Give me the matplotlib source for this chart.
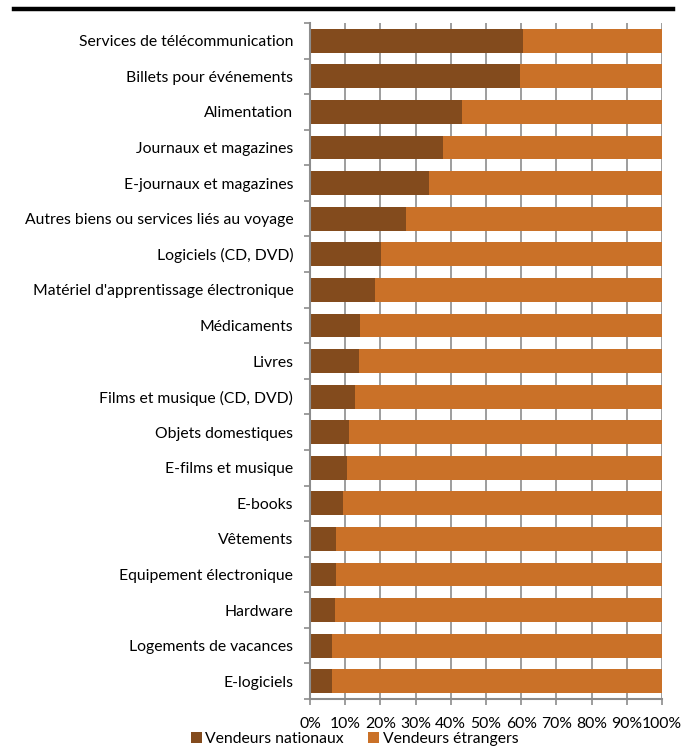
import matplotlib.pyplot as plt
import numpy as np
from matplotlib.lines import Line2D

plt.rcParams['font.family'] = ['Lato', 'DejaVu Sans']

categories = [
    'Services de télécommunication',
    'Billets pour événements',
    'Alimentation',
    'Journaux et magazines',
    'E-journaux et magazines',
    'Autres biens ou services liés au voyage',
    'Logiciels (CD, DVD)',
    "Matériel d'apprentissage électronique",
    'Médicaments',
    'Livres',
    'Films et musique (CD, DVD)',
    'Objets domestiques',
    'E-films et musique',
    'E-books',
    'Vêtements',
    'Equipement électronique',
    'Hardware',
    'Logements de vacances',
    'E-logiciels',
]
nationaux = [60.6, 59.8, 43.1, 37.9, 33.9, 27.4, 20.3, 18.6, 14.3, 13.9,
             12.7, 11.2, 10.6, 9.4, 7.4, 7.5, 7.1, 6.3, 6.25]
etrangers = [100 - v for v in nationaux]
xticks = [0, 10, 20, 30, 40, 50, 60, 70, 80, 90, 100]
series_names = ['Vendeurs nationaux', 'Vendeurs étrangers']

c_nat = '#834B1D'
c_etr = '#CA7128'
grey = '#8C8C8C'
fs = 11.3

fig = plt.figure(figsize=(6.88, 7.51), dpi=100)
ax = fig.add_axes([0.4506, 0.0692, 0.5116, 0.9002])

y = np.arange(len(categories))
ax.barh(y, nationaux, height=0.67, color=c_nat, label=series_names[0], zorder=2)
ax.barh(y, etrangers, left=nationaux, height=0.67, color=c_etr,
        label=series_names[1], zorder=2)

ax.set_xlim(0, 100)
ax.set_ylim(len(categories) - 0.5, -0.5)
ax.set_xticks(xticks)
ax.set_xticklabels([f'{t}%' for t in xticks], fontsize=fs)
ax.set_yticks(y)
ax.set_yticklabels(categories, fontsize=fs)
ax.set_yticks(np.arange(-0.5, len(categories), 1), minor=True)
ax.tick_params(axis='y', which='major', length=0, pad=12)
ax.tick_params(axis='y', which='minor', length=4, width=1.2, color=grey,
               direction='out')
ax.tick_params(axis='x', length=4, width=1.2, color=grey, direction='out',
               pad=9)
ax.grid(axis='x', color=grey, linewidth=1.2, zorder=0)
ax.set_axisbelow(True)

for s in ['top', 'right']:
    ax.spines[s].set_visible(False)
for s in ['left', 'bottom']:
    ax.spines[s].set_color(grey)
    ax.spines[s].set_linewidth(1.5)

# black rule at the top of the figure
fig.add_artist(Line2D([14 / 688, 673 / 688], [1 - 9 / 751, 1 - 9 / 751],
                      color='black', linewidth=3.2))

fig.legend(loc='lower center', bbox_to_anchor=(0.515, -0.012), ncol=2,
           frameon=False, fontsize=fs, handlelength=0.7, handleheight=0.7,
           handletextpad=0.2, columnspacing=1.6)

fig.savefig('out.png', dpi=100)
